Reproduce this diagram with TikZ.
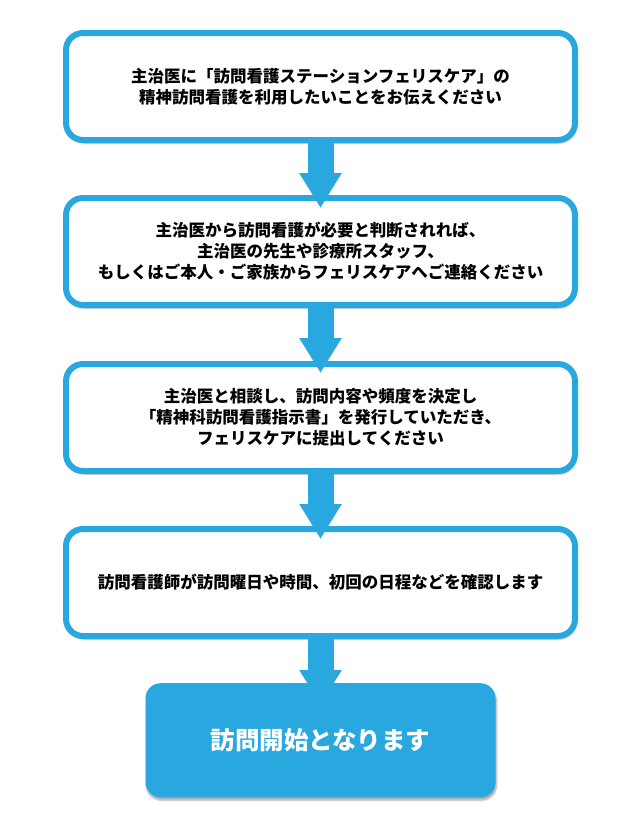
\documentclass[tikz,border=0pt]{standalone}
\usepackage{fontspec}
\newfontfamily\jp{Noto Sans CJK JP}
\usepackage{tikz}
\usetikzlibrary{arrows.meta, positioning, shadows.blur}
\definecolor{feliblue}{HTML}{29A8E0}
\tikzset{stepbox/.style={draw=feliblue, line width=6pt, fill=white, rounded corners=17pt,
    minimum width=509pt, minimum height=107pt, align=center,
    font=\jp\bfseries\fontsize{16.5}{21}\selectfont,
    blur shadow={shadow xshift=1pt, shadow yshift=-3pt, shadow opacity=35, shadow blur steps=6}}}
\tikzset{endbox/.style={fill=feliblue, text=white, rounded corners=15pt,
    minimum width=350pt, minimum height=114pt, align=center,
    font=\jp\bfseries\fontsize{24.5}{28}\selectfont,
    blur shadow={shadow xshift=1pt, shadow yshift=-3pt, shadow opacity=35, shadow blur steps=6}}}
\tikzset{flow/.style={feliblue, line width=26pt, -{Triangle[width=40pt,length=35pt]}}}

\begin{document}
\begin{tikzpicture}[x=1pt, y=-1pt]
\useasboundingbox (0,0) rectangle (640,828);
\node[stepbox] (visit1) at (320.5,86.5) {主治医に「訪問看護ステーションフェリスケア」の\\精神訪問看護を利用したいことをお伝えください};
\node[stepbox] (visit2) [below=52pt of visit1] {主治医から訪問看護が必要と判断されれば、\\主治医の先生や診療所スタッフ、\\もしくはご本人・ご家族からフェリスケアへご連絡ください};
\node[stepbox] (visit3) [below=53pt of visit2] {主治医と相談し、訪問内容や頻度を決定し\\「精神科訪問看護指示書」を発行していただき、\\フェリスケアに提出してください};
\node[stepbox] (visit4) [below=52pt of visit3] {訪問看護師が訪問曜日や時間、初回の日程などを確認します};
\node[endbox] (start) [below=44pt of visit4] {訪問開始となります};
% arrows between the steps
\foreach \a/\b/\d in {visit1/visit2/13, visit2/visit3/12, visit3/visit4/13, visit4/start/22}
  \draw[flow] ([yshift=3pt]\a.south) -- ([yshift=-\d pt]\b.north);
\end{tikzpicture}
\end{document}
